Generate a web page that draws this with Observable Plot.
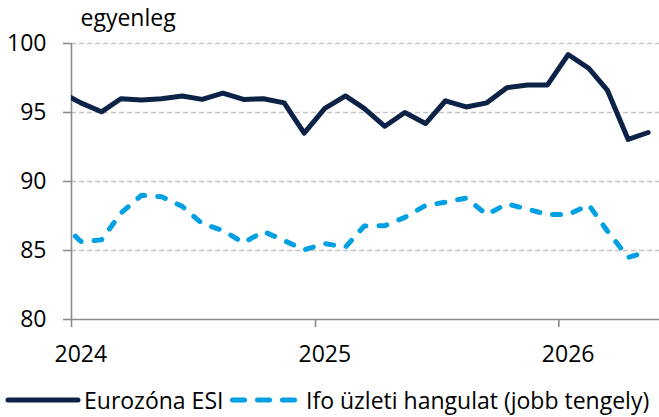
<!DOCTYPE html>
<html>
<head>
<meta charset="utf-8">
<script src="https://cdn.jsdelivr.net/npm/d3@7"></script>
<script src="https://cdn.jsdelivr.net/npm/@observablehq/plot@0.6"></script>
<style>
  html, body { margin: 0; padding: 0; background: #fff; }
  body { width: 659px; height: 417px; overflow: hidden; font-family: "Open Sans", Lato, sans-serif; }
  #legend { position: relative; height: 45px; font-size: 23px; color: #000; }
  #legend .item { position: absolute; top: 13px; display: flex; align-items: center; height: 30px; white-space: nowrap; }
</style>
</head>
<body>
<div id="chart"></div>
<div id="legend"></div>
<script>
const months = ["2023-12",
  "2024-01","2024-02","2024-03","2024-04","2024-05","2024-06","2024-07","2024-08","2024-09","2024-10","2024-11","2024-12",
  "2025-01","2025-02","2025-03","2025-04","2025-05","2025-06","2025-07","2025-08","2025-09","2025-10","2025-11","2025-12",
  "2026-01","2026-02","2026-03","2026-04","2026-05"];
const esi = [96.5,
  95.7, 95.05, 96.0, 95.9, 96.0, 96.2, 95.95, 96.4, 95.95, 96.0, 95.7, 93.5,
  95.3, 96.2, 95.3, 94.0, 95.0, 94.2, 95.85, 95.4, 95.7, 96.8, 97.0, 97.0,
  99.2, 98.2, 96.6, 93.05, 93.55];
const ifo = [87.1,
  85.65, 85.77, 87.7, 89.0, 88.9, 88.2, 86.95, 86.45, 85.56, 86.38, 85.72, 85.05,
  85.5, 85.24, 86.77, 86.8, 87.4, 88.26, 88.5, 88.8, 87.6, 88.38, 88.0, 87.6,
  87.6, 88.3, 86.4, 84.5, 84.93];
const seriesNames = ["Eurozóna ESI", "Ifo üzleti hangulat (jobb tengely)"];
const yTitle = "egyenleg";
const yTicks = [80, 85, 90, 95, 100];
const yGrid = [85, 90, 95, 100];
const yDomain = [80, 100];
const xTickYears = ["2024", "2025", "2026"];
const xDomainMonths = ["2024-01", "2026-06"];

const colors = {esi: "#0c2247", ifo: "#00a0e3", axis: "#8c8c8c", grid: "#c4c4c4"};
const parseM = d3.utcParse("%Y-%m");
// monthly observations plotted at mid-month
const mid = m => d3.utcDay.offset(parseM(m), 14);
const rowsEsi = months.map((m, i) => ({date: mid(m), value: esi[i]}));
const rowsIfo = months.map((m, i) => ({date: mid(m), value: ifo[i]}));
const xTicks = xTickYears.map(y => d3.utcParse("%Y")(y));
const xLabelPos = xTickYears.map(y => mid(y + "-01"));

const font = "'Open Sans', Lato, sans-serif";
const chart = Plot.plot({
  width: 659,
  height: 372,
  marginLeft: 71,
  marginRight: 0,
  marginTop: 43,
  marginBottom: 53,
  style: {fontFamily: font, fontSize: "23px", color: "#000", background: "#fff"},
  x: {type: "utc", domain: xDomainMonths.map(parseM)},
  y: {domain: yDomain},
  marks: [
    Plot.ruleY(yGrid, {stroke: colors.grid, strokeWidth: 1.5, strokeDasharray: "5,3"}),
    Plot.ruleY([yDomain[0]], {stroke: colors.axis, strokeWidth: 1.6}),
    Plot.ruleX([parseM(xDomainMonths[0])], {stroke: colors.axis, strokeWidth: 1.6}),
    Plot.axisY({ticks: yTicks, tickSize: 8, tickPadding: 17, stroke: colors.axis, strokeWidth: 1.6, fill: "#000", label: null, fontSize: 23}),
    Plot.axisX({ticks: xTicks, tickSize: 8, tickFormat: () => "", stroke: colors.axis, strokeWidth: 1.6, label: null}),
    Plot.axisX({ticks: xLabelPos, tickSize: 0, tickPadding: 26, tickFormat: d3.utcFormat("%Y"), fill: "#000", label: null, fontSize: 23}),
    Plot.lineY(rowsIfo, {x: "date", y: "value", stroke: colors.ifo, strokeWidth: 5, strokeDasharray: "8,13", strokeLinecap: "round", strokeLinejoin: "round", clip: true}),
    Plot.lineY(rowsEsi, {x: "date", y: "value", stroke: colors.esi, strokeWidth: 5, strokeLinejoin: "round", clip: true}),
    Plot.text([yTitle], {frameAnchor: "top-left", dx: 9, dy: -18, lineAnchor: "bottom", textAnchor: "start", fontSize: 23, fill: "#000"})
  ]
});
document.getElementById("chart").appendChild(chart);

const legend = document.getElementById("legend");
legend.innerHTML = `
  <div class="item" style="left:5px">
    <svg width="76" height="10"><line x1="3" y1="5" x2="73" y2="5" stroke="${colors.esi}" stroke-width="5" stroke-linecap="round"/></svg>
    <span style="margin-left:3px">${seriesNames[0]}</span>
  </div>
  <div class="item" style="left:228px">
    <svg width="72" height="10"><line x1="4.5" y1="5" x2="70" y2="5" stroke="${colors.ifo}" stroke-width="5" stroke-linecap="round" stroke-dasharray="12,13"/></svg>
    <span style="margin-left:6px">${seriesNames[1]}</span>
  </div>`;
</script>
</body>
</html>
